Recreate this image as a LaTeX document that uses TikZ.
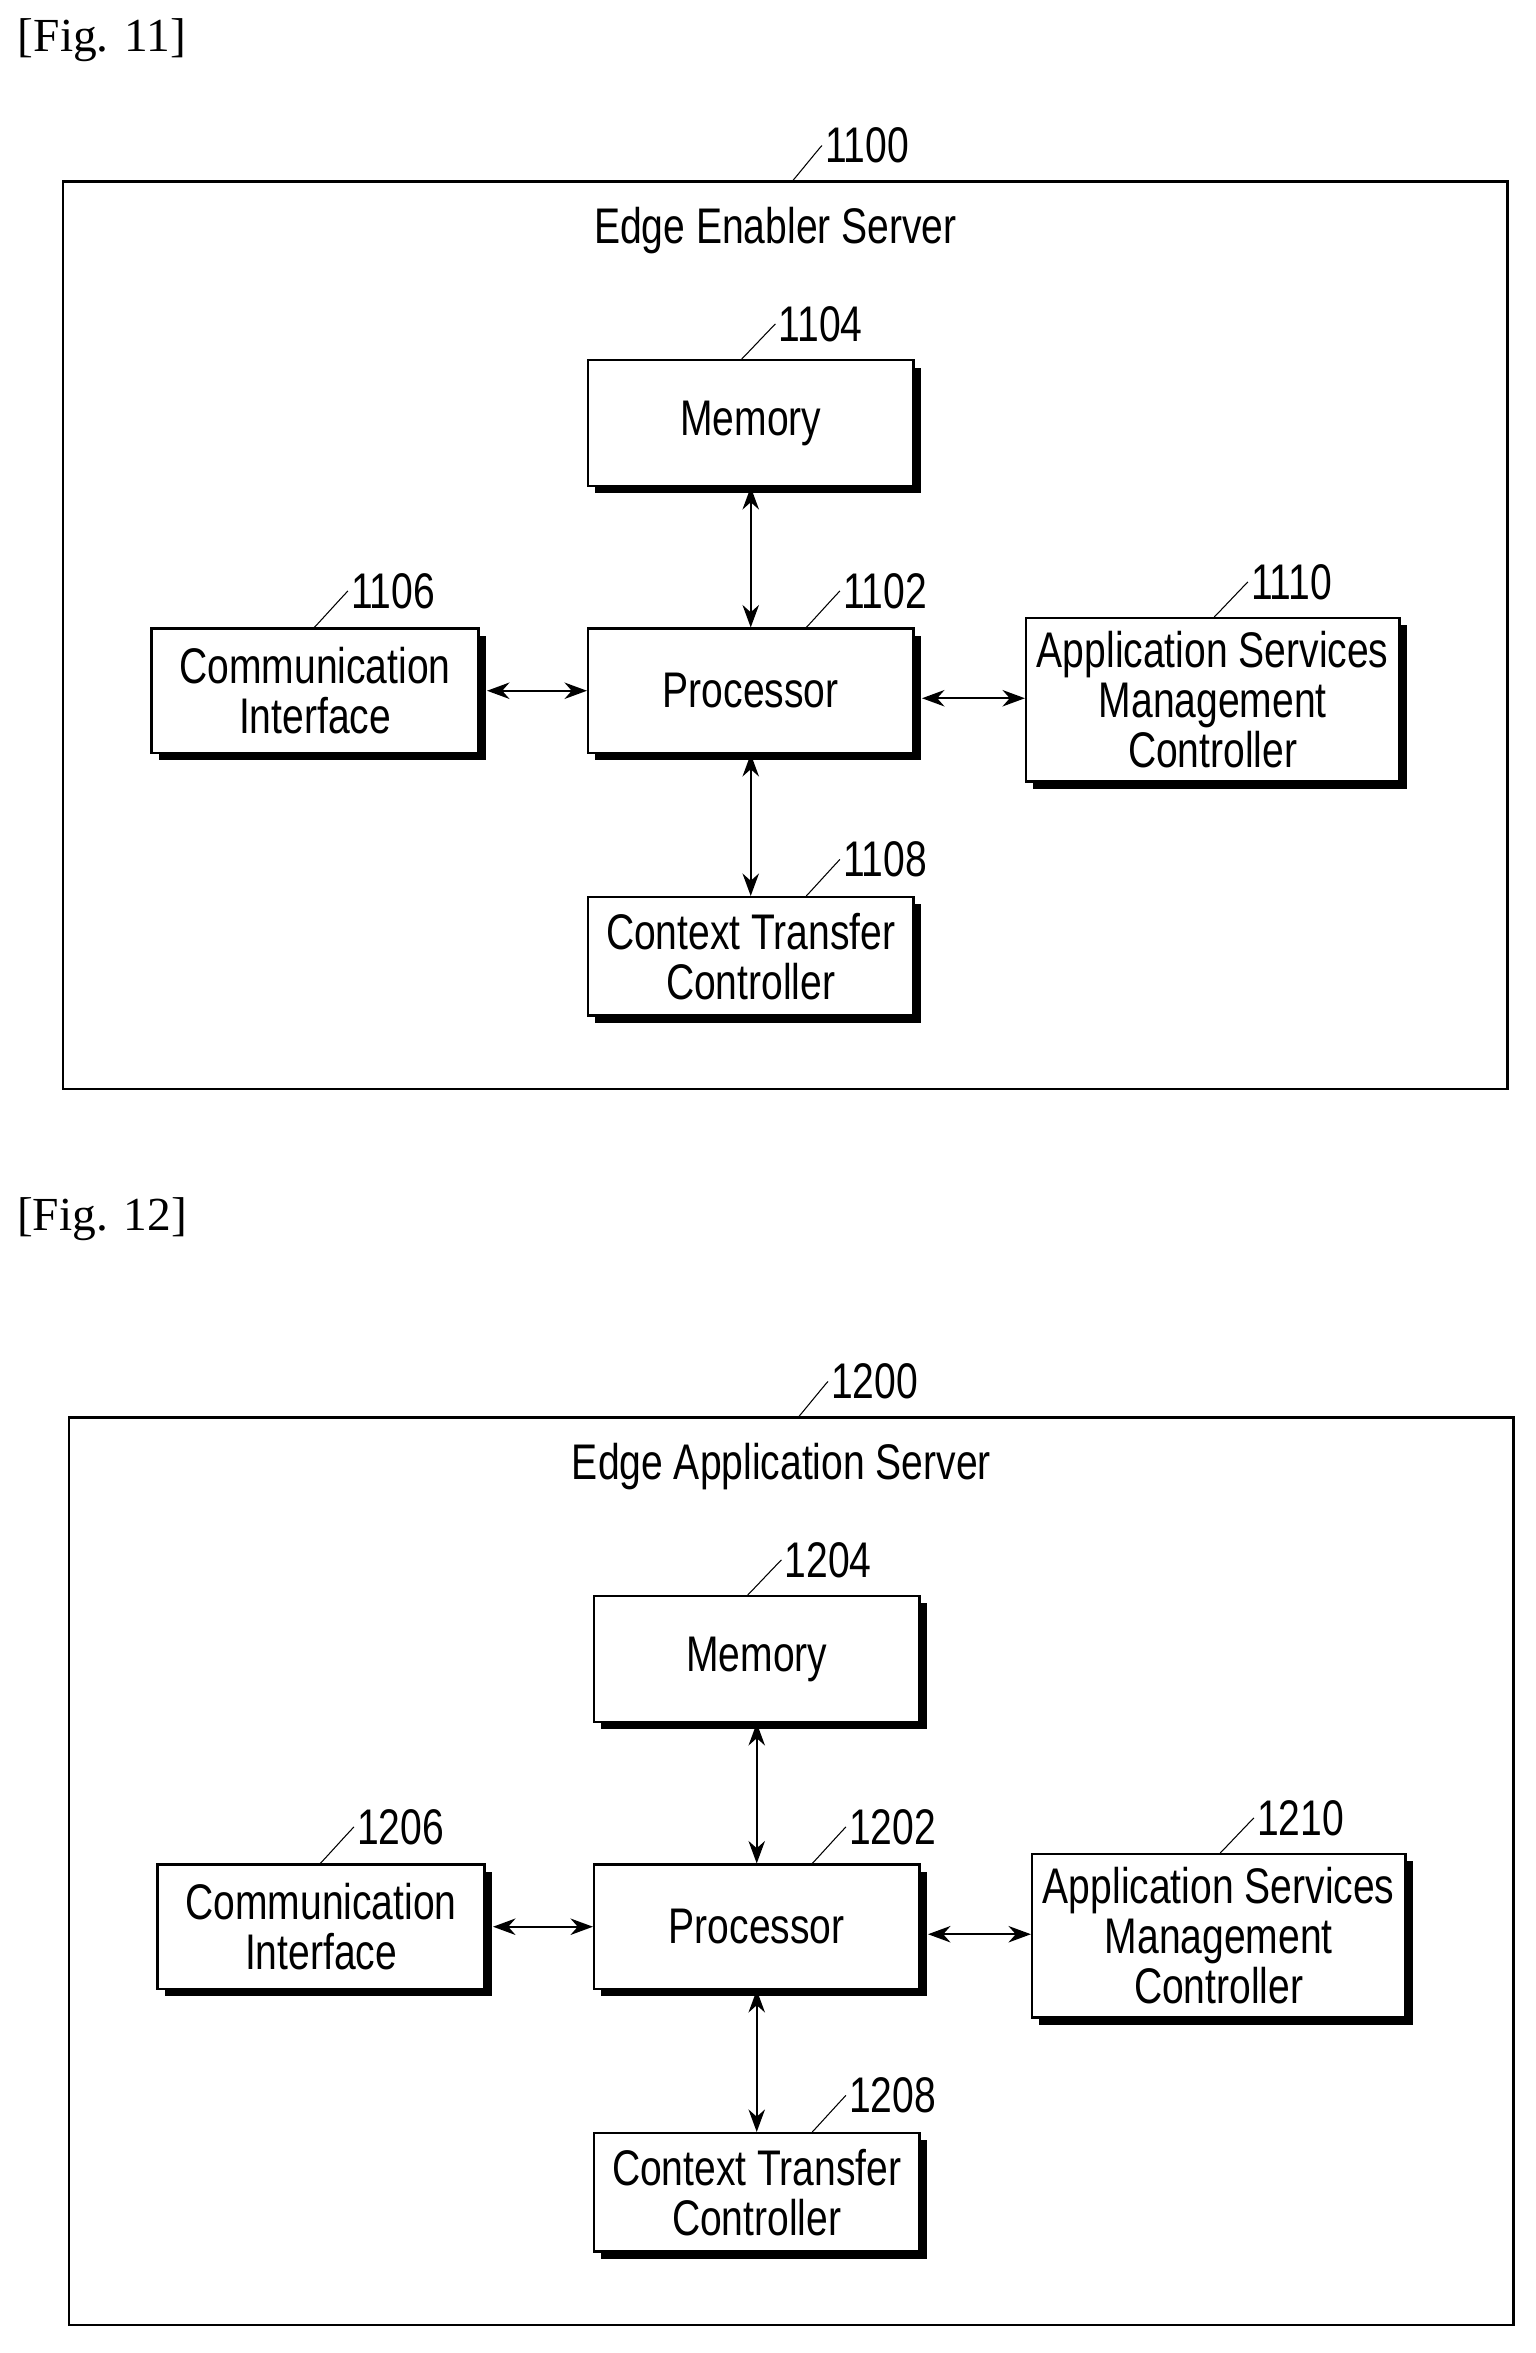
\documentclass[tikz,border=0pt]{standalone}
\usepackage{fontspec}
\setmainfont{Liberation Serif}
\newfontfamily\boxfont[FakeStretch=0.78]{Liberation Sans}
\usetikzlibrary{shadows,arrows.meta}

\begin{document}
\begin{tikzpicture}[
  x=0.02cm, y=-0.02cm,
  font=\boxfont\fontsize{19}{19}\selectfont,
  block/.style={draw, thick, fill=white, align=center, inner sep=0pt,
    drop shadow={shadow xshift=0.1cm, shadow yshift=-0.1cm, fill=black, opacity=1}},
  outer/.style={draw, thick},
  num/.style={anchor=west, inner sep=1pt},
  lead/.style={thin},
  link/.style={{Stealth[length=3mm,width=2.2mm]}-{Stealth[length=3mm,width=2.2mm]}, semithick}
]
\useasboundingbox (0,0) rectangle (1024,1568.7);

\node[font=\rmfamily\fontsize{18}{18}\selectfont] (fig11) at (68,27) {[Fig. 11]};
\node[font=\rmfamily\fontsize{18}{18}\selectfont] (fig12) at (68,813) {[Fig. 12]};

\foreach \dy/\fig/\title/\dx in {0/11/Edge Enabler Server/0, 824/12/Edge Application Server/4} {
  \begin{scope}[yshift=-\dy*0.02cm, xshift=\dx*0.02cm]
    \draw[outer] (42,121) rectangle (1005,726);
    \node (title\fig) at (517,154) {\title};
    \node[num] (n\fig00) at (548,97) {\fig00};
    \coordinate (c\fig00) at (528,121);
    \draw[lead] (c\fig00) .. controls +(0.3,-0.05) and +(-0.1,-0.3) .. (n\fig00.west);

    % blocks
    \node[block, minimum width=217*0.02cm, minimum height=84*0.02cm] (mem\fig) at (500.5,282) {Memory};
    \node[block, minimum width=217*0.02cm, minimum height=83*0.02cm] (proc\fig) at (500.5,460.5) {Processor};
    \node[block, minimum width=218*0.02cm, minimum height=83*0.02cm] (comm\fig) at (210,460.5) {Communication\\Interface};
    \node[block, minimum width=249*0.02cm, minimum height=109*0.02cm] (asmc\fig) at (808.5,466.5) {Application Services\\Management\\Controller};
    \node[block, minimum width=217*0.02cm, minimum height=79*0.02cm] (ctc\fig) at (500.5,637.5) {Context Transfer\\Controller};

    % reference numbers
    \node[num] (n\fig04) at (517,216) {\fig04};
    \node[num] (n\fig02) at (560,394) {\fig02};
    \node[num] (n\fig06) at (232,394) {\fig06};
    \node[num] (n\fig10) at (832,388) {\fig10};
    \node[num] (n\fig08) at (560,573) {\fig08};
    \foreach \b/\n in {mem/04, proc/02, ctc/08, comm/06, asmc/10} {
      \draw[lead] ([xshift=-0.45cm]n\fig\n.west |- \b\fig.north) .. controls +(0.3,-0.05) and +(-0.1,-0.3) .. (n\fig\n.west);
    }

    % connections
    \draw[link] (mem\fig) -- (proc\fig);
    \draw[link] (proc\fig) -- (ctc\fig);
    \draw[link] ([xshift=0.1cm]comm\fig.east) -- (proc\fig.west);
    \draw[link] ([xshift=0.1cm,yshift=-0.1cm]proc\fig.east) -- ([yshift=-0.1cm]proc\fig.east -| asmc\fig.west);
  \end{scope}
}
\end{tikzpicture}
\end{document}
